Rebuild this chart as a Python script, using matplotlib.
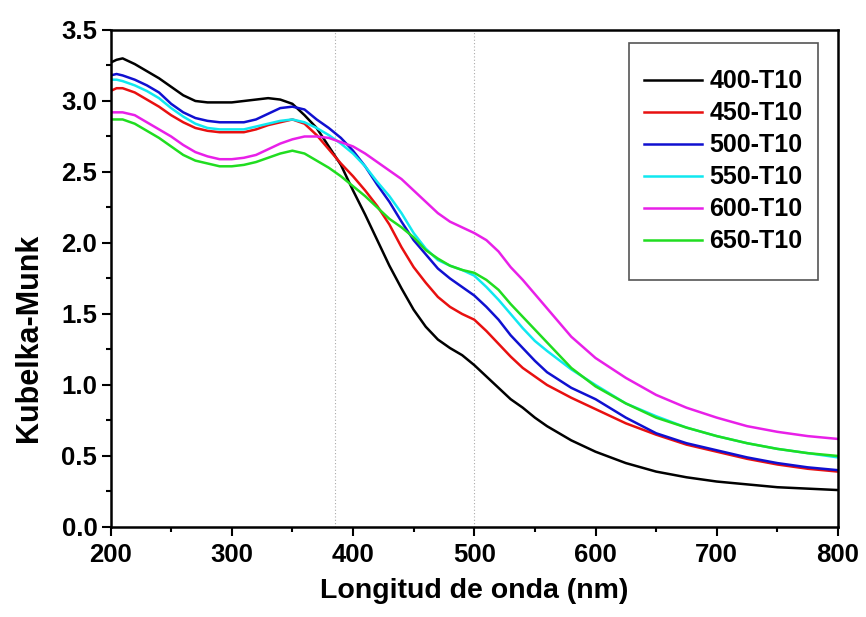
import matplotlib
matplotlib.use("Agg")
import matplotlib.pyplot as plt
from matplotlib.ticker import MultipleLocator
from matplotlib.patches import Rectangle

plt.rcParams['font.family'] = ['Liberation Sans', 'DejaVu Sans']
plt.rcParams['font.weight'] = 'bold'

# wavelength points (nm)
wl = [200, 205, 210, 220, 230, 240, 250, 260, 270, 280, 290, 300, 310, 320, 330, 340,
      350, 360, 370, 380, 390, 400, 410, 420, 430, 440, 450, 460, 470, 480, 490, 500,
      510, 520, 530, 540, 550, 560, 580, 600, 625, 650, 675, 700, 725, 750, 775, 800]

km_400 = [3.27, 3.29, 3.30, 3.26, 3.21, 3.16, 3.10, 3.04, 3.00, 2.99, 2.99, 2.99, 3.00, 3.01, 3.02, 3.01,
          2.98, 2.90, 2.81, 2.68, 2.55, 2.37, 2.20, 2.02, 1.84, 1.68, 1.53, 1.41, 1.32, 1.26, 1.21, 1.14,
          1.06, 0.98, 0.90, 0.84, 0.77, 0.71, 0.61, 0.53, 0.45, 0.39, 0.35, 0.32, 0.30, 0.28, 0.27, 0.26]
km_450 = [3.07, 3.09, 3.09, 3.06, 3.01, 2.96, 2.90, 2.85, 2.81, 2.79, 2.78, 2.78, 2.78, 2.80, 2.83, 2.85,
          2.87, 2.84, 2.76, 2.66, 2.56, 2.47, 2.37, 2.26, 2.13, 1.97, 1.83, 1.72, 1.62, 1.55, 1.50, 1.46,
          1.38, 1.29, 1.20, 1.12, 1.06, 1.00, 0.91, 0.83, 0.73, 0.65, 0.58, 0.53, 0.48, 0.44, 0.41, 0.39]
km_500 = [3.18, 3.19, 3.18, 3.15, 3.11, 3.06, 2.98, 2.92, 2.88, 2.86, 2.85, 2.85, 2.85, 2.87, 2.91, 2.95,
          2.96, 2.94, 2.87, 2.81, 2.74, 2.65, 2.54, 2.41, 2.29, 2.15, 2.02, 1.92, 1.82, 1.75, 1.69, 1.63,
          1.55, 1.46, 1.35, 1.26, 1.17, 1.09, 0.98, 0.90, 0.77, 0.66, 0.59, 0.54, 0.49, 0.45, 0.42, 0.40]
km_550 = [3.15, 3.15, 3.14, 3.11, 3.07, 3.02, 2.95, 2.89, 2.84, 2.81, 2.80, 2.80, 2.80, 2.82, 2.84, 2.86,
          2.87, 2.85, 2.81, 2.76, 2.70, 2.63, 2.54, 2.43, 2.33, 2.21, 2.07, 1.96, 1.88, 1.84, 1.81, 1.77,
          1.69, 1.60, 1.50, 1.40, 1.31, 1.24, 1.11, 1.00, 0.87, 0.78, 0.70, 0.64, 0.59, 0.55, 0.52, 0.49]
km_600 = [2.92, 2.92, 2.92, 2.90, 2.85, 2.80, 2.75, 2.69, 2.64, 2.61, 2.59, 2.59, 2.60, 2.62, 2.66, 2.70,
          2.73, 2.75, 2.75, 2.74, 2.71, 2.68, 2.63, 2.57, 2.51, 2.45, 2.37, 2.29, 2.21, 2.15, 2.11, 2.07,
          2.02, 1.94, 1.83, 1.74, 1.64, 1.54, 1.34, 1.19, 1.05, 0.93, 0.84, 0.77, 0.71, 0.67, 0.64, 0.62]
km_650 = [2.87, 2.87, 2.87, 2.84, 2.79, 2.74, 2.68, 2.62, 2.58, 2.56, 2.54, 2.54, 2.55, 2.57, 2.60, 2.63,
          2.65, 2.63, 2.58, 2.53, 2.47, 2.40, 2.33, 2.25, 2.17, 2.11, 2.04, 1.95, 1.89, 1.84, 1.81, 1.79,
          1.74, 1.67, 1.57, 1.48, 1.39, 1.30, 1.12, 0.99, 0.87, 0.77, 0.70, 0.64, 0.59, 0.55, 0.52, 0.50]

labels = ["400-T10", "450-T10", "500-T10", "550-T10", "600-T10", "650-T10"]
colors = ["black", "#e81010", "#1010d0", "#10e8f0", "#e820e8", "#20dd20"]
series = [km_400, km_450, km_500, km_550, km_600, km_650]

vlines = [385, 500]

fig = plt.figure(figsize=(8.66, 6.17), dpi=100)
ax = fig.add_axes([0.1276, 0.1459, 0.8401, 0.8055])

for xv in vlines:
    ax.axvline(xv, color="#aaaaaa", lw=0.8, ls=(0, (1, 2)), zorder=1)

for y, lab, c in zip(series, labels, colors):
    ax.plot(wl, y, color=c, lw=1.8, label=lab, zorder=2)

ax.set_xlim(200, 800)
ax.set_ylim(0, 3.5)
ax.xaxis.set_major_locator(MultipleLocator(100))
ax.xaxis.set_minor_locator(MultipleLocator(50))
ax.yaxis.set_major_locator(MultipleLocator(0.5))
ax.yaxis.set_minor_locator(MultipleLocator(0.25))
ax.yaxis.set_major_formatter(plt.FormatStrFormatter('%.1f'))

ax.tick_params(which='major', direction='out', length=6.5, width=1.5, labelsize=18.5)
ax.tick_params(axis='x', which='major', pad=5)
ax.tick_params(axis='y', which='major', pad=3)
ax.tick_params(which='minor', direction='out', length=3.6, width=1.5)
for sp in ax.spines.values():
    sp.set_linewidth(1.8)

ax.set_xlabel("Longitud de onda (nm)", fontsize=20.5, fontweight='bold', labelpad=8)
ax.set_ylabel("Kubelka-Munk", fontsize=22, fontweight='bold')
ax.yaxis.set_label_coords(-0.092, 0.38)

# legend frame is taller than matplotlib's own padding gives, so draw it separately
box = Rectangle((0.7127, 0.497), 0.2598, 0.477, transform=ax.transAxes,
                facecolor='white', edgecolor='#555555', lw=1.2, zorder=4)
ax.add_patch(box)
leg = ax.legend(loc='center', bbox_to_anchor=(0.8426, 0.7355), fontsize=18,
                frameon=False, handlelength=2.3, handletextpad=0.3,
                labelspacing=0.32, borderpad=0, borderaxespad=0)
leg.set_zorder(5)

fig.savefig("out.png", dpi=100)
